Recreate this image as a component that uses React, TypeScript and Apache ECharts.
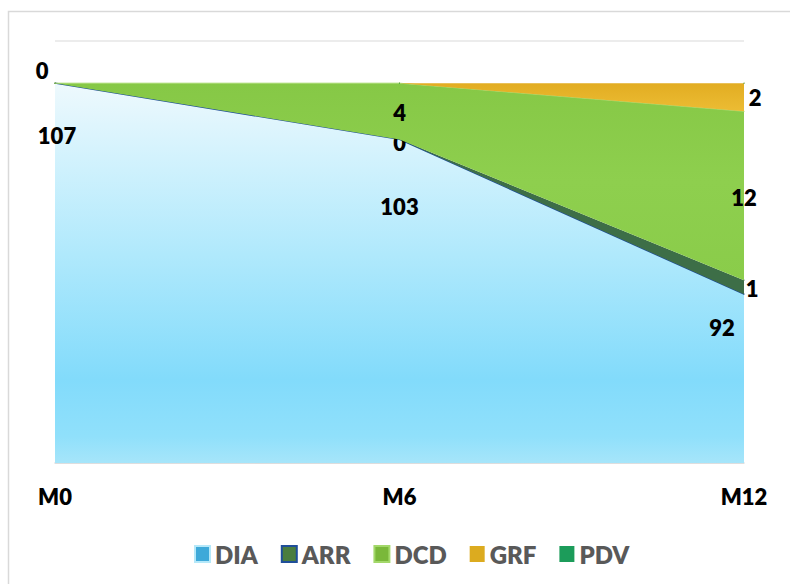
import React, { useEffect, useRef } from "react";
import * as echarts from "echarts";

const categories = ["M0", "M6", "M12"];
const diaValues = [107, 103, 92];
const arrValues = [0, 0, 1];
const dcdValues = [0, 4, 12];
const grfValues = [0, 0, 2];
const pdvValues = [0, 0, 0];

// label placement (offsets from the point, px); null = hidden
const diaLabelOffsets: (number[] | null)[] = [[2, 52], [0, 67], [-22, 33]];
const arrLabelOffsets: (number[] | null)[] = [null, [0, 3], [8, 8]];
const dcdLabelOffsets: (number[] | null)[] = [null, [0, 29], [0, 86]];
const grfLabelOffsets: (number[] | null)[] = [null, null, [11, 14]];
const pdvLabelOffsets: (number[] | null)[] = [[-13, -13], null, null];

const FONT = "Lato, 'Open Sans', sans-serif";

function buildData(values: number[], offsets: (number[] | null)[]) {
  return values.map((v, i) => {
    const off = offsets[i];
    return {
      value: v,
      label: off
        ? { show: true, position: "inside", offset: off }
        : { show: false },
    };
  });
}

export default function App() {
  const ref = useRef<HTMLDivElement>(null);

  useEffect(() => {
    if (!ref.current) return;
    const chart = echarts.init(ref.current, undefined, { renderer: "svg" });

    const labelStyle = {
      color: "#000000",
      fontFamily: FONT,
      fontWeight: 800,
      fontSize: 22,
      align: "center",
      verticalAlign: "middle",
    };

    const mk = (
      name: string,
      values: number[],
      offsets: (number[] | null)[],
      color: any,
      lineColor: string,
      lineWidth: number,
      z: number
    ) => ({
      name,
      type: "line",
      stack: "total",
      data: buildData(values, offsets),
      symbol: "circle",
      symbolSize: 1,
      showSymbol: true,
      itemStyle: { color: lineColor },
      lineStyle: { color: lineColor, width: lineWidth },
      areaStyle: { color, opacity: 1 },
      label: labelStyle,
      emphasis: { disabled: true },
      z,
    });

    const diaGradient = new echarts.graphic.LinearGradient(0, 0, 0, 1, [
      { offset: 0, color: "#eef9fd" },
      { offset: 0.2, color: "#d2f2fd" },
      { offset: 0.45, color: "#b0e9fc" },
      { offset: 0.78, color: "#82dbfb" },
      { offset: 0.93, color: "#90e0fb" },
      { offset: 1, color: "#a6e5fa" },
    ]);
    const dcdGradient = new echarts.graphic.LinearGradient(0, 0, 0, 1, [
      { offset: 0, color: "#86c846" },
      { offset: 0.5, color: "#8ecf4e" },
      { offset: 1, color: "#8acc4a" },
    ]);
    const grfGradient = new echarts.graphic.LinearGradient(0, 0, 0, 1, [
      { offset: 0, color: "#e2ad22" },
      { offset: 1, color: "#ecbc34" },
    ]);

    chart.setOption({
      animation: false,
      grid: { left: 55, right: 46, top: 41, bottom: 121 },
      graphic: [
        {
          type: "rect",
          z: -10,
          shape: { x: 8.5, y: 11.5, width: 800, height: 600 },
          style: { fill: "none", stroke: "#d9d9d9", lineWidth: 1.5 },
        },
      ],
      legend: {
        left: 189,
        top: 537,
        itemWidth: 15,
        itemHeight: 16,
        itemGap: 23,
        icon: "rect",
        textStyle: {
          color: "#595959",
          fontFamily: FONT,
          fontWeight: 800,
          fontSize: 24,
        },
        data: [
          { name: "DIA", itemStyle: { color: "#3ea9d9", borderColor: "#b5e8f9", borderWidth: 2 } },
          { name: "ARR", itemStyle: { color: "#4a7d3f", borderColor: "#1f4e99", borderWidth: 2 } },
          { name: "DCD", itemStyle: { color: "#7ab83a", borderColor: "#a3d86a", borderWidth: 2 } },
          { name: "GRF", itemStyle: { color: "#dcab1f", borderWidth: 0 } },
          { name: "PDV", itemStyle: { color: "#1c9c5a", borderWidth: 0 } },
        ],
      },
      xAxis: {
        type: "category",
        data: categories,
        boundaryGap: false,
        axisLine: { show: true, lineStyle: { color: "#d9d9d9", width: 1.5 } },
        axisTick: { show: false },
        axisLabel: {
          margin: 22,
          color: "#000000",
          fontFamily: FONT,
          fontWeight: 800,
          fontSize: 22,
        },
        splitLine: { show: false },
      },
      yAxis: {
        type: "value",
        min: 80,
        max: 110,
        interval: 30,
        axisLine: { show: false },
        axisTick: { show: false },
        axisLabel: { show: false },
        splitLine: { show: true, lineStyle: { color: "#e6e6e6", width: 1.5 } },
      },
      series: [
        mk("DIA", diaValues, diaLabelOffsets, diaGradient, "#1f4e99", 1.3, 2),
        mk("ARR", arrValues, arrLabelOffsets, "#3d6e47", "#3d6e47", 0, 3),
        mk("DCD", dcdValues, dcdLabelOffsets, dcdGradient, "#a6d96c", 1, 4),
        mk("GRF", grfValues, grfLabelOffsets, grfGradient, "#e2b028", 0, 5),
        mk("PDV", pdvValues, pdvLabelOffsets, "#1c9c5a", "#1c9c5a", 0, 6),
      ],
    });

    return () => chart.dispose();
  }, []);

  return (
    <div
      ref={ref}
      style={{ position: "absolute", left: 0, top: 0, width: 790, height: 584 }}
    />
  );
}
